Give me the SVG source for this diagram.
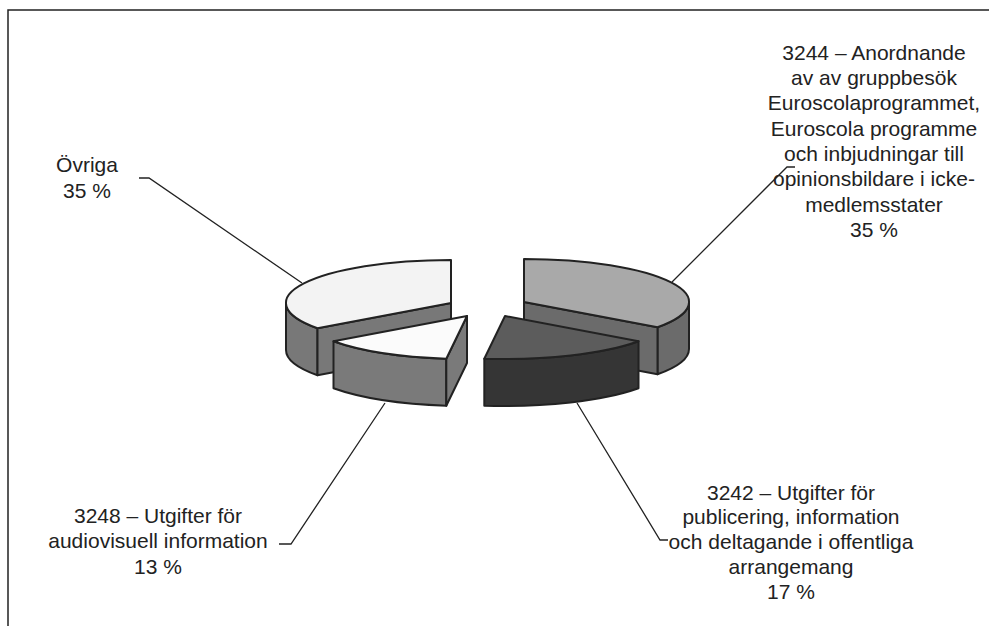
<svg xmlns="http://www.w3.org/2000/svg" width="989" height="626" viewBox="0 0 989 626">
<style>
.edge{stroke:#222;stroke-width:2;stroke-linejoin:round}
.lead{fill:none;stroke:#222;stroke-width:1.3}
.lbl{font-family:"Liberation Sans",Arial,sans-serif;font-size:21px;fill:#222;text-anchor:middle}
</style>
<rect x="0" y="0" width="989" height="626" fill="#fff"/>
<rect x="8" y="10" width="1000" height="640" fill="none" stroke="#222" stroke-width="1.5"/>
<g id="slice-ovriga">
<path class="edge" fill="#787878" d="M286,303 A165,43 0 0 0 317.5,328.3 L317.5,375.3 A165,43 0 0 1 286,350 Z"/>
<path class="edge" fill="#787878" d="M451,303 L317.5,328.3 L317.5,375.3 L451,350 Z"/>
<path class="edge" fill="#f3f3f3" d="M451,303 L451,260 A165,43 0 0 0 317.5,328.3 Z"/>
</g>
<g id="slice-3248">
<path class="edge" fill="#7a7a7a" d="M333.5,341.3 A165,43 0 0 0 446.3,358.7 L446.3,405.7 A165,43 0 0 1 333.5,388.3 Z"/>
<path class="edge" fill="#7a7a7a" d="M467,316 L446.3,358.7 L446.3,405.7 L467,363 Z"/>
<path class="edge" fill="#fbfbfb" d="M467,316 L333.5,341.3 A165,43 0 0 0 446.3,358.7 Z"/>
</g>
<g id="slice-3244">
<path class="edge" fill="#6b6b6b" d="M689,302 A165,43 0 0 1 657.5,327.3 L657.5,374.3 A165,43 0 0 0 689,349 Z"/>
<path class="edge" fill="#6b6b6b" d="M524,302 L657.5,327.3 L657.5,374.3 L524,349 Z"/>
<path class="edge" fill="#a9a9a9" d="M524,302 L524,259 A165,43 0 0 1 657.5,327.3 Z"/>
</g>
<g id="slice-3242">
<path class="edge" fill="#353535" d="M638.5,341.3 A165,43 0 0 1 484.3,358.7 L484.3,405.7 A165,43 0 0 0 638.5,388.3 Z"/>
<path class="edge" fill="#5c5c5c" d="M505,316 L638.5,341.3 A165,43 0 0 1 484.3,358.7 Z"/>
</g>
<g id="connectors">
<path class="lead" d="M139,178 L149,178 L302,283"/>
<path class="lead" d="M672,282 L787,167 L795,167"/>
<path class="lead" d="M279,544 L291,544 L385,403"/>
<path class="lead" d="M577,403 L660,540 L668,540"/>
</g>
<g id="label-ovriga">
<text class="lbl" x="87" y="172">Övriga</text>
<text class="lbl" x="87" y="198">35 %</text>
</g>
<g id="label-3244">
<text class="lbl" x="874" y="60">3244 – Anordnande</text>
<text class="lbl" x="874" y="85">av av gruppbesök</text>
<text class="lbl" x="874" y="110">Euroscolaprogrammet,</text>
<text class="lbl" x="874" y="136">Euroscola programme</text>
<text class="lbl" x="874" y="161">och inbjudningar till</text>
<text class="lbl" x="874" y="186">opinionsbildare i icke-</text>
<text class="lbl" x="874" y="212">medlemsstater</text>
<text class="lbl" x="874" y="237">35 %</text>
</g>
<g id="label-3248">
<text class="lbl" x="158" y="523">3248 – Utgifter för</text>
<text class="lbl" x="158" y="548">audiovisuell information</text>
<text class="lbl" x="158" y="574">13 %</text>
</g>
<g id="label-3242">
<text class="lbl" x="791" y="500">3242 – Utgifter för</text>
<text class="lbl" x="791" y="524">publicering, information</text>
<text class="lbl" x="791" y="549">och deltagande i offentliga</text>
<text class="lbl" x="791" y="574">arrangemang</text>
<text class="lbl" x="791" y="599">17 %</text>
</g>
</svg>
